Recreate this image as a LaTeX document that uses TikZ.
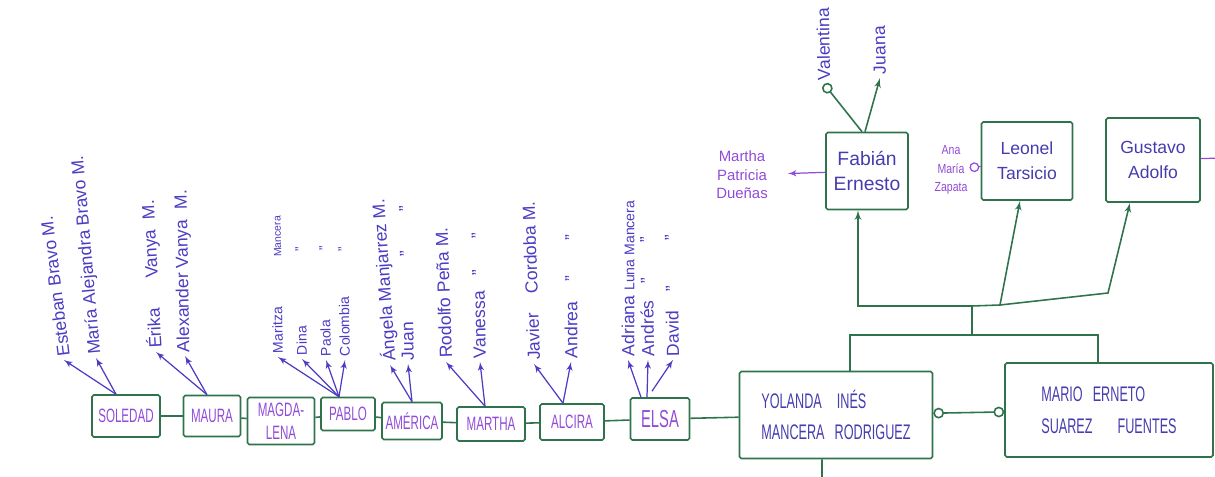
\documentclass[tikz,border=0pt]{standalone}
\usepackage{fontspec}
\setmainfont{Liberation Sans}
\newfontfamily\capsfont{Liberation Sans}[FakeStretch=0.6]
\newfontfamily\narrowfont{Liberation Sans}[FakeStretch=0.8]
\usetikzlibrary{shapes,arrows,positioning,calc}
\definecolor{treegreen}{RGB}{47,115,76}
\definecolor{namepurple}{RGB}{145,75,215}
\definecolor{kidblue}{RGB}{75,60,195}
\definecolor{darkname}{RGB}{70,60,175}

\begin{document}
\begin{tikzpicture}[x = 0.2mm, y = -0.2mm, > = latex', font = \fontsize{10}{12}\selectfont]
    \tikzset{
      person/.style = {draw = treegreen, line width = 0.9pt, rounded corners = 1pt, align = center, text = namepurple, inner sep = 1pt, font = \capsfont\fontsize{11}{13}\selectfont},
      parent/.style = {person, text = darkname, align = left, font = \capsfont\fontsize{12}{18}\selectfont},
      kin/.style = {person, text = darkname, font = \fontsize{10}{14}\selectfont},
      kid/.style = {text = kidblue, anchor = west, rotate = #1, inner sep = 2pt},
      kid/.default = 91,
      inlaw/.style = {text = namepurple, align = center, inner sep = 1pt},
      link/.style = {draw = treegreen, line width = 0.9pt},
      kidline/.style = {draw = kidblue, line width = 0.7pt},
      inlawline/.style = {draw = namepurple, line width = 0.7pt},
    }
    \useasboundingbox (0,0) rectangle (1215,477);

    % brothers and sisters
    \node [person, minimum width = 13.6mm, minimum height = 8.4mm] (soledad) at (126,416) {SOLEDAD};
    \node [person, minimum width = 11.4mm, minimum height = 8.2mm] (maura) at (212,416) {MAURA};
    \node [person, minimum width = 13.4mm, minimum height = 9.4mm] (magdalena) at (281,421) {MAGDA-\\LENA};
    \node [person, minimum width = 10.8mm, minimum height = 6.6mm] (pablo) at (348,414) {PABLO};
    \node [person, minimum width = 12mm, minimum height = 7.4mm] (america) at (412,421) {AMÉRICA};
    \node [person, minimum width = 13.6mm, minimum height = 6.8mm] (martha) at (491,424) {MARTHA};
    \node [person, minimum width = 12.8mm, minimum height = 7.2mm] (alcira) at (572,422) {ALCIRA};
    \node [person, minimum width = 11.8mm, minimum height = 8.4mm, font = \capsfont\fontsize{14}{16}\selectfont] (elsa) at (660,419) {ELSA};
    \node [parent, minimum width = 38.6mm, minimum height = 17.4mm] (yolanda) at (836,415) {YOLANDA\hspace{3mm}INÉS\\MANCERA\hspace{2mm}RODRIGUEZ};
    \node [parent, minimum width = 41.6mm, minimum height = 18.8mm] (mario) at (1109,410) {MARIO\hspace{2mm}ERNETO\\SUAREZ\hspace{5mm}FUENTES};

    \draw [link] (soledad) -- (maura);
    \draw [link] (maura) -- (magdalena);
    \draw [link] (magdalena) -- (pablo);
    \draw [link] (pablo) -- (america);
    \draw [link] (america) -- (martha);
    \draw [link] (martha) -- (alcira);
    \draw [link] (alcira) -- (elsa);
    \draw [link] (elsa) -- (yolanda);
    \draw [link, o-o] (yolanda) -- (mario);

    % children of Yolanda and Mario
    \node [kin, minimum width = 16.4mm, minimum height = 15.4mm, font = \fontsize{11}{14}\selectfont] (fabian) at (867,171) {Fabián\\Ernesto};
    \node [kin, minimum width = 18.2mm, minimum height = 15.6mm] (leonel) at (1027,161) {Leonel\\Tarsicio};
    \node [kin, minimum width = 18.8mm, minimum height = 16.8mm] (gustavo) at (1153,160) {Gustavo\\Adolfo};

    \coordinate (couple) at (972,335);
    \coordinate (sibs) at (972,306);
    \coordinate (kidsmid) at (1000,305);
    \coordinate (kidsright) at (1108,293);
    \coordinate (below) at (822,480);
    \coordinate (offpage) at (1222,158);

    \draw [link] ([xshift = 2.8mm]yolanda.north) |- (couple) -| ([xshift = -2.2mm]mario.north);
    \draw [link] (couple) -- (sibs);
    \draw [link, ->] (sibs) -| ([xshift = -1.8mm]fabian.south);
    \draw [link, ->] (sibs) -- (kidsmid) -- ([xshift = -1.4mm]leonel.south);
    \draw [link, ->] (kidsmid) -- (kidsright) -- ([xshift = -4.6mm]gustavo.south);
    \draw [link] ([xshift = -2.8mm]yolanda.south) -- (below);

    % wives and grandchildren
    \node [inlaw, font = \fontsize{8.5}{10.5}\selectfont] (marthap) at (742,175) {Martha\\Patricia\\Dueñas};
    \node [inlaw, font = \narrowfont\fontsize{7.5}{10.5}\selectfont] (anamaria) at (951,170) {Ana\\María\\Zapata};
    \node [kid] (valentina) at (824,84) {Valentina};
    \node [kid] (juana) at (880,78) {Juana};

    \draw [inlawline, ->, shorten > = 3.6mm] (fabian) -- (marthap);
    \draw [inlawline, -o] (leonel) -- (anamaria);
    \draw [inlawline] (gustavo) -- (offpage);
    \draw [link, -o] ([xshift = -1mm]fabian.north) -- (valentina.west);
    \draw [link, ->] ([xshift = -0.4mm]fabian.north) -- (juana.west);

    % nephews and nieces
    \node [kid = 97] (esteban) at (64,360) {Esteban\hspace{1.2mm}Bravo M.};
    \node [kid = 95] (mariaale) at (96,358) {María Alejandra Bravo M.};
    \node [kid = 93] (erika) at (156,352) {Érika\hspace{6mm}Vanya\hspace{2mm}M.};
    \node [kid] (alexander) at (185,356) {Alexander Vanya\hspace{2mm}M.};
    \node [kid, font = \fontsize{8}{10}\selectfont] (maritza) at (278,357) {Maritza\hspace{10mm}{\fontsize{6}{8}\selectfont Mancera}};
    \node [kid, font = \fontsize{8}{10}\selectfont] (dina) at (302,359) {Dina\hspace{15mm}"};
    \node [kid, font = \fontsize{8}{10}\selectfont] (paola) at (326,360) {Paola\hspace{14mm}"};
    \node [kid, font = \fontsize{8}{10}\selectfont] (colombia) at (345,360) {Colombia\hspace{9mm}"};
    \node [kid = 94] (angela) at (390,365) {Ángela Manjarrez M.};
    \node [kid] (juan) at (408,364) {Juan\hspace{13mm}"\hspace{8mm}"};
    \node [kid = 92] (rodolfo) at (446,362) {Rodolfo Peña M.};
    \node [kid] (vanessa) at (480,362) {Vanessa\hspace{3mm}"\hspace{6.4mm}"};
    \node [kid = 92] (javier) at (534,364) {Javier\hspace{4mm}Cordoba M.};
    \node [kid = 90] (andrea) at (571,362) {Andrea\hspace{4mm}"\hspace{7mm}"};
    \node [kid = 90] (adriana) at (628,360) {Adriana {\fontsize{8}{10}\selectfont Luna Mancera}};
    \node [kid] (andres) at (648,360) {Andrés\hspace{3.4mm}"\hspace{7mm}"};
    \node [kid] (david) at (673,360) {David\hspace{4mm}"\hspace{9mm}"};

    \draw [kidline, ->] ([xshift = -2mm]soledad.north) -- (esteban.west);
    \draw [kidline, ->] ([xshift = -2mm]soledad.north) -- (mariaale.west);
    \draw [kidline, ->] ([xshift = -1mm]maura.north) -- (erika.west);
    \draw [kidline, ->] ([xshift = -1mm]maura.north) -- (alexander.west);
    \draw [kidline, ->] ([xshift = -1.8mm]pablo.north) -- (maritza.west);
    \draw [kidline, ->] ([xshift = -1.8mm]pablo.north) -- (dina.west);
    \draw [kidline, ->] ([xshift = -1.8mm]pablo.north) -- (paola.west);
    \draw [kidline, ->] ([xshift = -1.8mm]pablo.north) -- (colombia.west);
    \draw [kidline, ->] (america.north) -- (angela.west);
    \draw [kidline, ->] (america.north) -- (juan.west);
    \draw [kidline, ->] ([xshift = -1.2mm]martha.north) -- (rodolfo.west);
    \draw [kidline, ->] ([xshift = -1.2mm]martha.north) -- (vanessa.west);
    \draw [kidline, ->] ([xshift = -1.8mm]alcira.north) -- (javier.west);
    \draw [kidline, ->] ([xshift = -1.8mm]alcira.north) -- (andrea.west);
    \draw [kidline, ->] ([xshift = -3.8mm]elsa.north) -- (adriana.west);
    \draw [kidline, ->] ([xshift = -2.6mm]elsa.north) -- (andres.west);
    \draw [kidline, ->] ([xshift = -1.6mm, yshift = 1.2mm]elsa.north) -- (david.west);
\end{tikzpicture}
\end{document}
